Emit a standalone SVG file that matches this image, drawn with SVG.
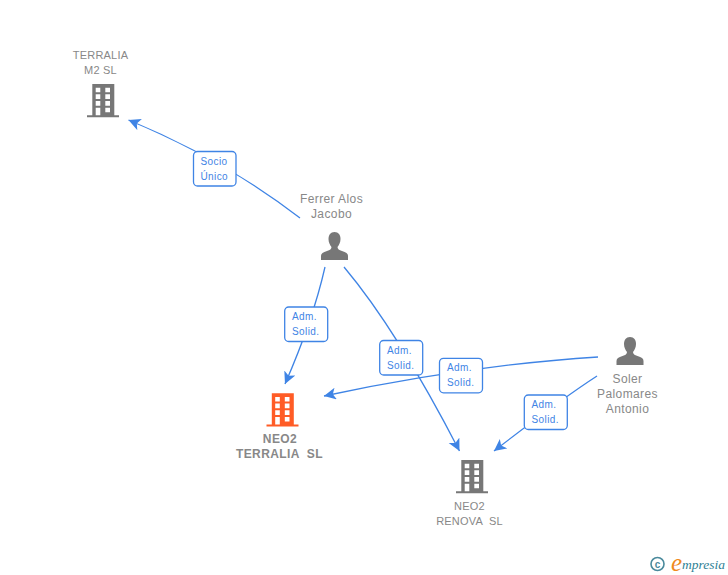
<svg xmlns="http://www.w3.org/2000/svg" width="728" height="575" viewBox="0 0 728 575">
<style>
.n{font-family:"Liberation Sans",Arial,sans-serif;font-size:12px;fill:#888;text-anchor:middle;letter-spacing:.4px}
.s{font-size:11px;letter-spacing:.2px}
.b{font-weight:bold}
.c{fill:none;stroke:#3f84e5;stroke-width:1.3;marker-end:url(#a)}
.l rect{fill:#fff;stroke:#3f84e5;stroke-width:1.3}
.l text{font-family:"Liberation Sans",Arial,sans-serif;font-size:10px;fill:#3f84e5;letter-spacing:.4px}
</style>
<defs>
<marker id="a" markerUnits="userSpaceOnUse" markerWidth="14" markerHeight="14" refX="12" refY="6" orient="auto">
<path d="M0 0L12 6L0 12L3 6Z" fill="#3f84e5"/>
</marker>
<path id="bld" fill-rule="evenodd" d="M5.300 0H27.300V31.300H32V33.300H0V31.300H5.300ZM8.700 3.700V8.300H13.300V3.700ZM18.300 3.700V8.300H23V3.700ZM8.700 10.300V15H13.300V10.300ZM18.300 10.300V15H23V10.300ZM8.700 17V21.700H13.300V17ZM18.300 17V21.700H23V17ZM8.700 23.700V31.300H13.300V23.700ZM18.300 23.700V28.300H23V23.700Z"/>
<path id="per" d="M13.500 0C17.500 0 19.500 3 19.500 7C19.500 10.500 18 13 16.500 15C16.500 17 18 18 21 19C25 20.300 27 21.500 27 24V28H0V24C0 21.500 2 20.300 6 19C9 18 10.500 17 10.500 15C9 13 7.500 10.500 7.500 7C7.500 3 9.500 0 13.500 0Z"/>
</defs>
<g id="connectors">
<path class="c" d="M300 218Q225 160 128.500 120"/>
<path class="c" d="M325 267Q313 320 285 384"/>
<path class="c" d="M344 267Q397 330 459.500 451"/>
<path class="c" d="M598 357Q470 365 324 396"/>
<path class="c" d="M597 376Q560 400 494 451"/>
</g>
<g id="node-terralia-m2"><text class="n s" x="100.500" y="59">TERRALIA</text><text class="n s" x="100.500" y="74">M2 SL</text><use href="#bld" x="87" y="84" fill="#777"/></g>
<g id="node-ferrer"><text class="n" x="331.500" y="203">Ferrer Alos</text><text class="n" x="331.500" y="218">Jacobo</text><use href="#per" x="321" y="232" fill="#777"/></g>
<g id="node-neo2-terralia"><use href="#bld" x="266.500" y="393.300" fill="#ff5c26"/><text class="n b" x="280" y="443">NEO2</text><text class="n b" x="279.500" y="458">TERRALIA &#160;SL</text></g>
<g id="node-neo2-renova"><use href="#bld" x="456" y="460" fill="#777"/><text class="n s" x="469.500" y="510">NEO2</text><text class="n s" x="469.500" y="525">RENOVA &#160;SL</text></g>
<g id="node-soler"><use href="#per" x="616.500" y="337" fill="#777"/><text class="n" x="627.500" y="383">Soler</text><text class="n" x="627.500" y="398">Palomares</text><text class="n" x="627.500" y="413">Antonio</text></g>
<g id="label-1" class="l"><rect x="193.500" y="151.500" width="42.500" height="34.500" rx="4"/><text x="200.500" y="165">Socio</text><text x="200.500" y="180">Único</text></g>
<g id="label-2" class="l"><rect x="284.700" y="307" width="43" height="34.500" rx="4"/><text x="292" y="320">Adm.</text><text x="292" y="335">Solid.</text></g>
<g id="label-3" class="l"><rect x="379.700" y="340.500" width="43" height="34.500" rx="4"/><text x="387" y="354">Adm.</text><text x="387" y="369">Solid.</text></g>
<g id="label-4" class="l"><rect x="439.500" y="358.300" width="43" height="34.500" rx="4"/><text x="447" y="371">Adm.</text><text x="447" y="386">Solid.</text></g>
<g id="label-5" class="l"><rect x="524.300" y="395" width="43" height="34.500" rx="4"/><text x="531.500" y="408">Adm.</text><text x="531.500" y="423">Solid.</text></g>
<g id="logo"><circle cx="657.500" cy="564" r="6.500" fill="none" stroke="#4a8a9c" stroke-width="1.600"/><text x="657.500" y="567.500" font-family="Liberation Sans,sans-serif" font-size="10" font-weight="bold" fill="#4a8a9c" text-anchor="middle">c</text><text x="671" y="571" font-family="Liberation Serif,serif" font-style="italic" font-size="25" fill="#f08a1d">e</text><text x="682" y="569" font-family="Liberation Serif,serif" font-style="italic" font-size="13.500" fill="#2f7f95">mpresia</text></g>
</svg>
